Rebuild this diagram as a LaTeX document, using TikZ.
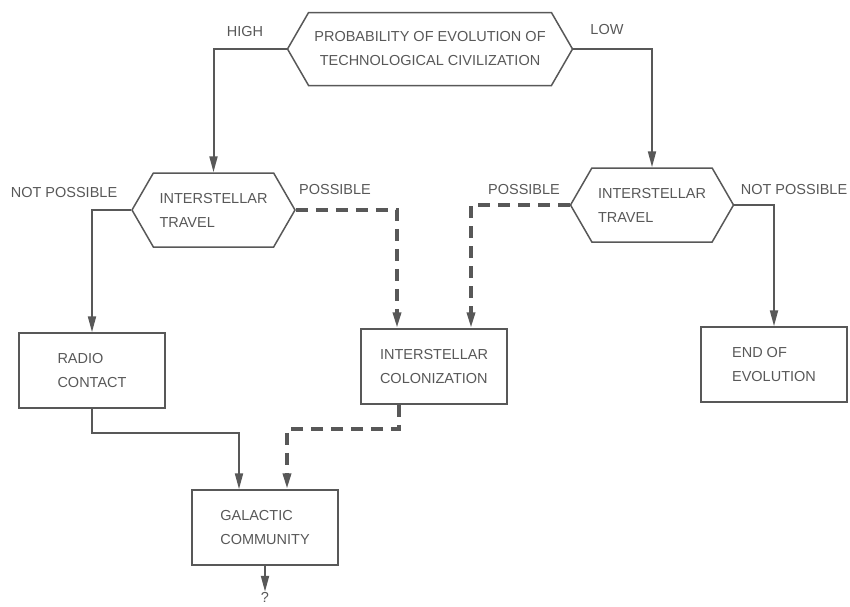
\documentclass[tikz,border=0pt]{standalone}
\usepackage{fontspec}
\setmainfont{Liberation Sans}
\usetikzlibrary{shapes.symbols, arrows.meta, calc}
\definecolor{ink}{RGB}{88,88,88}

\begin{document}
\begin{tikzpicture}[
    x=1pt, y=-1pt,
    font=\fontsize{14.5}{24}\selectfont, text=ink,
    decision/.style={signal, signal to=west and east, signal pointer angle=120, draw=ink, line width=1.5pt, minimum width=163pt, minimum height=74pt, align=left, inner sep=2pt},
    outcome/.style={rectangle, draw=ink, line width=1.5pt, minimum width=146pt, minimum height=75pt, align=left},
    branch/.style={inner sep=1pt},
    arrow/.style={-{Triangle[length=16pt,width=8pt]}, draw=ink, line width=2pt},
    farrow/.style={arrow, line width=3.5pt, dash pattern=on 12pt off 8pt}
]
\useasboundingbox (0,0) rectangle (850,606);
\node (prob) [decision, minimum width=285pt, minimum height=73pt, align=center] at (430,49) {PROBABILITY OF EVOLUTION OF\\TECHNOLOGICAL CIVILIZATION};
\node (travelL) [decision] at (213.5,210) {INTERSTELLAR\\TRAVEL};
\node (travelR) [decision] at (652,205) {INTERSTELLAR\\TRAVEL};
\node (radio) [outcome] at (92,370.5) {RADIO\\CONTACT};
\node (colony) [outcome] at (434,366.5) {INTERSTELLAR\\COLONIZATION};
\node (endevo) [outcome] at (774,364.5) {END OF\\EVOLUTION};
\node (galaxy) [outcome] at (265,527.5) {GALACTIC\\COMMUNITY};
\node (unknown) [inner sep=0pt] at (265,597) {?};
\node (high) [branch] at (245,32) {HIGH};
\node (low) [branch] at (607,30) {LOW};
\node (nopeL) [branch] at (64,193) {NOT POSSIBLE};
\node (yesL) [branch] at (335,190) {POSSIBLE};
\node (yesR) [branch] at (524,190) {POSSIBLE};
\node (nopeR) [branch] at (794,190) {NOT POSSIBLE};
\draw [arrow] (prob.west) -| (travelL.north);
\draw [arrow] (prob.east) -| (travelR.north);
\draw [arrow] (travelL.west) -| (radio.north);
\draw [farrow] (travelL.east) -| ([xshift=-37pt]colony.north);
\draw [farrow] (travelR.west) -| ([xshift=37pt]colony.north);
\draw [arrow] (travelR.east) -| (endevo.north);
\draw [arrow] (radio.south) -- ++(0,24) -| ([xshift=-26pt]galaxy.north);
\draw [farrow] ([xshift=-35pt]colony.south) -- ++(0,24) -| ([xshift=22pt]galaxy.north);
\draw [arrow] (galaxy.south) -- (unknown.north);
\end{tikzpicture}
\end{document}
